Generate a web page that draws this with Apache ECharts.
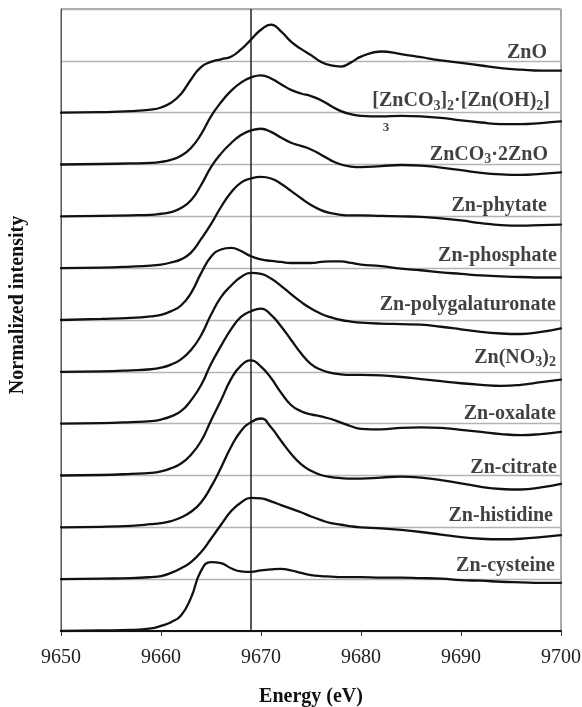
<!DOCTYPE html>
<html>
<head>
<meta charset="utf-8">
<script src="https://cdn.jsdelivr.net/npm/echarts@6/dist/echarts.min.js"></script>
<style>
  html, body { margin: 0; padding: 0; background: #fff; }
  #chart { width: 582px; height: 707px; }
</style>
</head>
<body>
<div id="chart"></div>
<script>
// Zn K-edge XANES reference spectra (normalized), stacked with a unit offset each
const energy = [9650, 9654, 9657, 9659, 9660, 9661, 9662, 9663, 9664, 9665, 9666, 9667, 9668, 9669, 9670,
  9671, 9672, 9673, 9674, 9675, 9676, 9677, 9678, 9679, 9680, 9682, 9684, 9686, 9688, 9690, 9692,
  9694, 9696, 9698, 9700];

const znO = [0, 0.01, 0.03, 0.06, 0.10, 0.19, 0.36, 0.64, 0.88, 0.98, 1.03, 1.08, 1.22, 1.41, 1.60,
  1.70, 1.57, 1.37, 1.23, 1.11, 0.98, 0.91, 0.89, 0.97, 1.08, 1.18, 1.13, 1.07, 1.01, 0.96, 0.91,
  0.86, 0.83, 0.81, 0.81];
const znHydrozincite = [0, 0.01, 0.02, 0.03, 0.05, 0.09, 0.17, 0.32, 0.58, 0.93, 1.20, 1.42, 1.58, 1.68, 1.72,
  1.66, 1.55, 1.44, 1.37, 1.32, 1.24, 1.13, 1.03, 0.97, 0.94, 0.93, 0.94, 0.93, 0.90, 0.85, 0.81,
  0.78, 0.78, 0.80, 0.83];
const znCarbonateOxide = [0, 0.01, 0.02, 0.03, 0.05, 0.08, 0.16, 0.31, 0.60, 0.95, 1.21, 1.41, 1.57, 1.66, 1.69,
  1.63, 1.52, 1.42, 1.36, 1.29, 1.19, 1.08, 1.00, 0.96, 0.95, 0.97, 0.99, 0.98, 0.94, 0.89, 0.84,
  0.81, 0.80, 0.82, 0.85];
const znPhytate = [0, 0.01, 0.03, 0.05, 0.07, 0.11, 0.17, 0.30, 0.56, 0.85, 1.18, 1.46, 1.65, 1.73, 1.76,
  1.73, 1.63, 1.49, 1.35, 1.22, 1.12, 1.06, 1.03, 1.02, 1.02, 1.01, 1.00, 0.99, 0.96, 0.92, 0.87,
  0.83, 0.82, 0.83, 0.84];
const znPhosphate = [0, 0.02, 0.04, 0.07, 0.10, 0.17, 0.28, 0.52, 0.90, 1.22, 1.36, 1.39, 1.33, 1.23, 1.17,
  1.14, 1.12, 1.10, 1.10, 1.10, 1.12, 1.13, 1.13, 1.10, 1.07, 1.04, 0.99, 0.96, 0.92, 0.89, 0.86,
  0.84, 0.83, 0.82, 0.82];
const znPolygalacturonate = [0, 0.01, 0.03, 0.05, 0.08, 0.14, 0.24, 0.42, 0.70, 1.10, 1.44, 1.66, 1.83, 1.91, 1.89,
  1.80, 1.66, 1.50, 1.35, 1.22, 1.12, 1.05, 1.00, 0.97, 0.95, 0.93, 0.92, 0.91, 0.87, 0.82, 0.77,
  0.74, 0.73, 0.77, 0.84];
const znNitrate = [0, 0.01, 0.03, 0.05, 0.08, 0.14, 0.24, 0.45, 0.74, 1.15, 1.50, 1.82, 2.06, 2.17, 2.22,
  2.10, 1.88, 1.62, 1.36, 1.15, 1.04, 0.98, 0.95, 0.94, 0.94, 0.93, 0.90, 0.86, 0.82, 0.78, 0.75,
  0.73, 0.75, 0.80, 0.85];
const znOxalate = [0, 0.01, 0.03, 0.05, 0.08, 0.14, 0.23, 0.40, 0.66, 1.06, 1.45, 1.86, 2.12, 2.22, 2.10,
  1.88, 1.60, 1.36, 1.24, 1.18, 1.14, 1.09, 1.02, 0.95, 0.90, 0.89, 0.92, 0.93, 0.92, 0.88, 0.84,
  0.80, 0.78, 0.80, 0.84];
const znCitrate = [0, 0.01, 0.03, 0.06, 0.08, 0.12, 0.19, 0.30, 0.48, 0.78, 1.15, 1.55, 1.86, 2.03, 2.10,
  1.93, 1.67, 1.42, 1.22, 1.09, 1.01, 0.97, 0.95, 0.94, 0.94, 0.96, 0.98, 0.96, 0.91, 0.85, 0.78,
  0.74, 0.73, 0.77, 0.84];
const znHistidine = [0, 0.01, 0.02, 0.04, 0.06, 0.12, 0.21, 0.33, 0.52, 0.78, 1.05, 1.31, 1.48, 1.57, 1.56,
  1.50, 1.43, 1.36, 1.29, 1.21, 1.14, 1.08, 1.05, 1.02, 1.00, 0.98, 0.95, 0.91, 0.86, 0.81, 0.78,
  0.77, 0.78, 0.81, 0.85];
const znCysteine = [0, 0.01, 0.02, 0.05, 0.10, 0.17, 0.30, 0.64, 1.16, 1.33, 1.31, 1.21, 1.15, 1.14, 1.17,
  1.19, 1.20, 1.17, 1.12, 1.08, 1.06, 1.05, 1.04, 1.04, 1.04, 1.03, 1.03, 1.02, 1.01, 0.98, 0.97,
  0.95, 0.94, 0.93, 0.93];

// top to bottom
const spectra = [znO, znHydrozincite, znCarbonateOxide, znPhytate, znPhosphate, znPolygalacturonate,
  znNitrate, znOxalate, znCitrate, znHistidine, znCysteine];
const names = ['ZnO', '[ZnCO{s|3}]{s|2}·[Zn(OH){s|2}]', 'ZnCO{s|3}·2ZnO', 'Zn-phytate', 'Zn-phosphate',
  'Zn-polygalaturonate', 'Zn(NO{s|3}){s|2}', 'Zn-oxalate', 'Zn-citrate', 'Zn-histidine', 'Zn-cysteine'];
const offsets = [10, 9, 8, 7, 6, 5, 4, 3, 2, 1, 0];
const edgeMarker = 9669;

// label anchors (right edge energy, height above each offset)
const labelRight = [9698.6, 9698.9, 9698.7, 9698.6, 9699.6, 9699.5, 9699.5, 9699.5, 9699.6, 9699.2, 9699.4];
const labelLift = [1.16, 1.22, 1.19, 1.20, 1.24, 1.30, 1.27, 1.19, 1.15, 1.22, 1.26];

const FONT = '"Liberation Serif", "Times New Roman", serif';

const series = [];
spectra.forEach((vals, i) => {
  series.push({
    type: 'line',
    data: energy.map((e, k) => [e, vals[k] + offsets[i]]),
    showSymbol: false,
    smooth: 0.5,
    lineStyle: { color: '#111', width: 2.3, cap: 'round', join: 'round' },
    silent: true,
    z: 3
  });
});

series.push({
  type: 'line',
  data: [[edgeMarker, 0], [edgeMarker, 12]],
  showSymbol: false,
  lineStyle: { color: '#222', width: 1.5 },
  silent: true,
  z: 2
});

const labelData = names.map((n, i) => ({ value: [labelRight[i], offsets[i] + labelLift[i]], name: n }));
labelData.push({ value: [9682.5, 9.71], name: '3', label: { position: 'inside', fontSize: 13 } });

series.push({
  type: 'scatter',
  data: labelData,
  symbolSize: 0,
  silent: true,
  z: 5,
  label: {
    show: true,
    position: 'left',
    distance: 0,
    color: '#111',
    fontFamily: FONT,
    fontWeight: 'bold',
    fontSize: 20,
    formatter: p => p.name,
    rich: {
      s: { fontFamily: FONT, fontWeight: 'bold', fontSize: 14, color: '#111', padding: [10, 0, 0, 0] }
    }
  }
});

const chart = echarts.init(document.getElementById('chart'), null, { renderer: 'canvas' });
chart.setOption({
  animation: false,
  backgroundColor: '#fff',
  grid: {
    left: 61, right: 21, top: 9, bottom: 76,
    outerBoundsMode: 'none', containLabel: false,
    show: true, borderColor: '#555', borderWidth: 1
  },
  xAxis: {
    type: 'value', min: 9650, max: 9700, interval: 10,
    name: 'Energy (eV)', nameLocation: 'middle', nameGap: 56,
    nameTextStyle: { fontFamily: FONT, fontWeight: 'bold', fontSize: 20, color: '#111' },
    axisLine: { show: true, lineStyle: { color: '#111', width: 2 } },
    axisTick: { show: true, inside: false, length: 5, lineStyle: { color: '#333', width: 1 } },
    axisLabel: { fontFamily: FONT, fontSize: 20, color: '#222', margin: 17, formatter: v => String(v) },
    splitLine: { show: false }
  },
  yAxis: {
    type: 'value', min: 0, max: 12, interval: 1,
    name: 'Normalized intensity', nameLocation: 'middle', nameGap: 33,
    nameTextStyle: { fontFamily: FONT, fontWeight: 'bold', fontSize: 20, color: '#111', padding: [0, 0, 0, 30] },
    axisLine: { show: true, lineStyle: { color: '#555', width: 1 } },
    axisTick: { show: false },
    axisLabel: { show: false },
    splitLine: { show: true, lineStyle: { color: '#b4b4b4', width: 1.3 } }
  },
  series: series
});
</script>
</body>
</html>
